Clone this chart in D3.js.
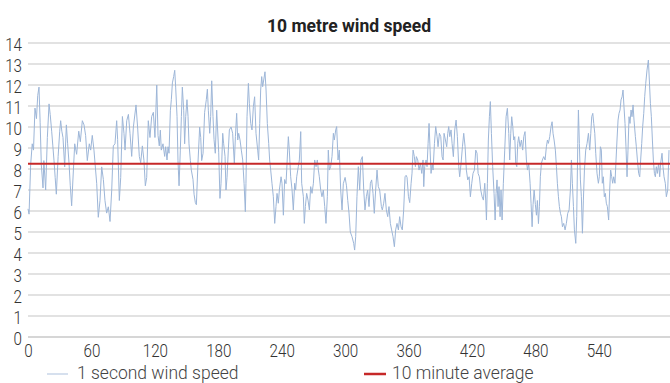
<!DOCTYPE html>
<html><head><meta charset="utf-8">
<script src="https://cdn.jsdelivr.net/npm/d3@7"></script>
<style>body{margin:0;background:#fff}svg{display:block}</style>
</head><body>
<svg id="chart" width="670" height="383"></svg>
<script>
const title = "10 metre wind speed";
const seriesNames = ["1 second wind speed", "10 minute average"];
const xTickValues = [0, 60, 120, 180, 240, 300, 360, 420, 480, 540];
const yTickValues = [0,1,2,3,4,5,6,7,8,9,10,11,12,13,14];
const averageSpeed = 8.25;
const seconds = [
0,1,2.5,4,5.2,6.6,8,9.2,10.4,11.5,12.6,14.2,15,16.7,18.3,19.9,21,22.4,23.5,24.6,25.7,26.8,28.5,30,30.9,32,33.1,34.7,36.3,37.5,38.8,40,41.3,43,44.2,46,48,49.5,51.4,53,54.5,56.1,58,59.3,60.8,62.4,
65,66.5,68.1,69.7,71.3,72.8,74.4,76,77.6,79.2,80.7,82.3,83.9,84.8,86.4,87.7,89.3,90.8,91.8,93.4,95,96.5,98.1,99.7,102.2,103.8,105.3,106.6,108.2,109.7,111,112.3,113.8,115.4,117,118.6,120.1,121.8,123,124.2,
125.2,126.1,127.7,129.3,130.2,131.5,132.5,133.4,134.7,135.6,136.6,137.8,138.8,139.7,141,141.9,142.9,144.1,145.1,146,147.3,148.2,149.2,150.4,151.4,152.3,153.6,154.5,156.1,157.1,158.3,159.3,160.8,162.4,163.4,164.3,165.6,167.1,168.7,169.7,170.6,171.9,172.8,173.8,175,176,177.2,178.5,180.4,181.6,182.6,184.2,
185.1,186.4,187.3,188.3,189.5,190.5,192.1,193.6,195.2,196.2,197.4,198.4,199.3,200.6,201.8,203.1,204.4,205.6,206.2,207.2,208.5,209.4,210.7,211.9,213.2,214.4,215.7,217.3,218.2,219.2,220.1,221.1,222,223,224.2,225.2,226.4,227.7,228.6,229.6,230.8,232.1,233.4,234.6,235.6,236.8,237.8,239.4,240.3,241.6,242.8,244.1,
246.3,247.2,248.5,249.8,251,252.3,253.2,254.2,255.7,256.7,258,258.9,260.5,261.4,262.4,263.6,264.9,266.2,267.4,268.7,270,271.2,272.5,273.7,274.7,275.6,276.9,278.1,279.4,280.7,281.9,283.2,284.1,285.1,286.3,287.6,288.9,289.8,291.1,292,293.3,294.5,295.8,297.1,298.3,300,301.3,302.5,303.7,304.9,
306.5,308.1,309,310,311.2,312.5,313.8,315,316.3,317.6,318.8,320.1,321.3,322.6,323.9,325.1,326.4,327.6,328.9,330.2,331.4,332.7,334.3,335.2,336.5,337.7,339,340.3,341.5,342.8,344,345.3,346.6,347.8,349.1,350.4,351.6,352.9,354.1,355.4,356.7,357.7,358.6,359.9,361.1,362.4,363.3,364.3,
365.5,366.5,367.4,368.7,369.9,371.2,372.5,373.7,374.4,375.3,376.6,377.5,378.5,379.4,380.4,381.3,382.3,383.2,384.5,385.7,387,387.9,389.2,390.5,391.7,392.7,393.6,394.9,396.1,397.1,398,399,400.2,401.2,402.4,403.7,405,406.2,407.5,408.4,409.7,411,412.2,413.5,414.7,416,417.3,418.5,419.8,421,422.3,423.6,424.8,
425.8,427,428.3,429.6,430.8,432.1,433,433.7,434.6,435.5,436.5,437.4,438.4,439.6,440.9,441.9,442.8,443.7,444.7,445.6,446.6,447.5,448.5,449.7,451,452.3,453.5,454.8,455.7,456.7,457.6,458.6,459.5,460.5,461.4,462.4,463.3,464.2,465.5,466.8,468,469,470.2,471.5,472.5,473.7,475,475.9,476.9,477.8,478.8,480,481,481.9,482.9,483.8,484.7,
485.7,486.6,487.9,489.2,490.4,491.4,492.3,493.6,494.8,495.8,496.7,497.7,498.9,499.9,500.8,501.8,502.7,503.7,504.6,505.6,506.8,508.1,509.3,510.6,511.9,513.1,514.1,515,516,516.9,518.2,519.1,520.1,520.7,521.6,522.6,523.5,524.5,525.4,526.4,527.6,528.9,530.2,531.4,532.4,533.3,534.3,535.2,536.2,537.1,
538.3,539.6,540.5,541.5,542.4,543.3,544.3,545.2,546.2,547.1,548.1,549.3,550.3,551.2,552.2,553.1,554.1,555.3,556.3,557.2,558.2,559.1,560.1,561,562,562.9,563.8,564.8,565.7,566.7,567.6,568.6,569.5,570.5,571.4,572.4,573.3,574.6,575.5,576.5,577.7,578.7,579.6,580.6,581.5,582.5,583.4,584.4,585.6,586.9,587.8,588.8,589.7,590.7,591.6,592.6,593.5,594.4,595.4,596.6,597.6,598.5,599.8,600.7,601.7,602.9,603.9,605.2,606.4
];
const speed = [
6.1,5.85,8.2,9.2,8.9,10.9,10.4,11.5,11.9,10.2,8.2,7.1,8.4,7.0,9.5,11.1,10.6,9.8,9.1,8.4,7.6,6.8,8.6,9.8,10.3,9.8,9.5,8.1,10.1,9.2,8.3,7.2,6.25,8.0,9.2,8.7,9.8,9.3,10.3,10.1,9.6,8.4,9.2,8.9,9.6,8.9,
7.3,5.7,6.5,8.1,7.5,6.5,5.9,6.2,5.5,7.0,9.1,9.2,10.3,9.4,6.5,7.6,10.5,9.7,8.9,10.3,10.6,9.7,8.6,10.0,11.05,9.9,8.6,8.3,9.1,8.4,7.2,7.6,10.3,9.5,10.5,10.7,9.5,12.0,9.6,9.1,
9.85,8.9,9.2,8.6,9.06,8.43,9.06,8.75,10.8,11.3,12.1,12.4,12.7,11.9,10.5,8.4,7.2,8.9,10.5,11.9,10.8,9.2,10.5,11.3,10.5,9.2,8.4,7.95,7.5,6.8,6.4,6.3,8.3,10.0,9.5,8.4,8.75,10.7,11.3,11.8,10.8,9.7,10.5,12.2,10.5,9.4,8.75,10.8,8.8,6.6,7.3,9.7,
9.2,8.6,7.0,7.6,8.9,9.86,10.0,9.7,8.27,9.54,10.65,9.38,9.7,9.38,8.9,8.43,7.32,5.97,7.32,10.49,12.08,11.13,10.17,9.86,10.97,11.44,9.7,8.9,8.43,10.17,11.76,12.4,11.92,12.24,12.63,11.76,10.17,9.22,8.43,7.95,7.32,6.68,5.41,6.21,6.84,6.37,7.0,7.63,7.32,5.8,7.5,7.3,
9.54,8.9,7.63,7.0,6.05,7.32,7.0,7.63,8.11,8.43,9.78,7.32,6.68,5.41,6.21,6.84,6.52,6.05,7.16,6.84,7.32,8.43,8.11,8.43,7.95,7.63,7.0,6.68,7.0,6.21,5.41,6.68,8.9,7.95,8.11,8.59,9.7,9.38,9.86,10.02,8.43,8.9,7.0,6.05,7.3,7.6,7.2,6.5,5.9,5.0,
4.78,4.46,4.14,4.78,6.68,8.11,7.0,8.43,8.59,7.0,6.05,6.68,7.0,6.21,7.32,7.48,6.84,5.89,7.0,7.95,7.16,7.0,6.21,6.05,6.37,6.84,6.05,5.73,6.21,5.41,5.1,4.78,4.3,5.1,5.41,5.1,5.73,5.25,5.1,6.05,7.63,7.7,7.6,6.7,6.4,7.3,7.8,8.9,
8.59,8.11,8.59,8.43,7.95,8.27,7.79,8.43,7.16,8.11,8.43,8.11,9.22,10.17,8.9,7.79,8.27,7.95,9.22,10.02,9.54,9.06,9.7,9.54,8.59,8.43,9.7,9.38,9.06,9.7,10.02,9.54,9.86,9.22,8.59,9.86,10.33,9.54,8.11,7.63,8.27,9.06,9.7,9.06,7.95,7.48,7.63,6.68,7.32,7.79,7.95,8.9,8.75,
7.79,7.63,7.0,6.68,6.52,7.32,6.52,5.57,7.32,9.38,10.49,11.21,9.7,8.11,6.84,5.57,6.84,7.48,6.21,7.16,5.73,7.0,5.57,7.32,8.9,10.49,10.89,9.7,8.43,9.7,10.49,10.02,9.38,9.54,8.27,8.11,9.22,9.54,9.06,9.38,8.9,9.54,9.78,8.43,7.95,8.27,7.32,6.37,5.25,6.3,7.0,6.3,5.8,6.5,5.4,6.2,7.63,
8.27,8.43,8.59,8.43,9.06,9.38,9.22,9.54,10.02,10.25,9.7,9.38,8.9,8.11,7.32,6.68,6.21,5.89,5.73,5.25,5.41,5.1,5.41,5.89,6.05,7.0,8.43,7.32,6.21,5.1,4.46,5.73,9.22,10.81,9.22,7.48,6.68,4.94,6.52,7.95,8.9,9.22,9.7,8.9,9.7,10.49,10.65,10.17,9.7,8.75,
7.8,7.32,7.63,9.06,8.9,7.32,7.63,6.68,6.84,6.37,6.21,5.57,7.0,7.95,7.63,7.32,7.63,7.32,8.43,9.38,10.33,10.65,10.81,11.29,11.44,11.76,10.97,10.17,9.06,7.63,8.9,10.49,10.17,10.81,10.49,11.05,10.33,9.54,9.06,8.43,7.79,7.63,8.43,9.22,10.02,10.65,11.44,12.08,12.71,13.19,12.24,11.13,10.49,9.38,8.43,7.79,7.63,8.11,7.79,8.27,7.63,8.27,8.75,8.11,7.63,7.32,6.68,7.0,8.9
];

const svg = d3.select("#chart");
const x = d3.scaleLinear().domain([0, 606.4]).range([28, 669]);
const y = d3.scaleLinear().domain([0, 14]).range([337, 43]);
const font = "Roboto, 'Noto Sans', sans-serif";

// gridlines
svg.append("g").selectAll("line").data(yTickValues).join("line")
  .attr("x1", 28).attr("x2", 670)
  .attr("y1", d => y(d)).attr("y2", d => y(d))
  .attr("stroke", d => d === 0 ? "#c8c8c8" : "#d9d9d9")
  .attr("stroke-width", 1.4);

// y axis labels
const yAxis = svg.append("g").attr("transform", "translate(22,0)")
  .call(d3.axisLeft(y).tickValues(yTickValues).tickSize(0).tickPadding(0).tickFormat(d3.format("d")));
yAxis.select(".domain").remove();
yAxis.selectAll("text").attr("font-family", font).attr("font-weight", 300).attr("font-size", 19)
  .attr("fill", "#333").attr("dy", "0.42em").attr("transform", "scale(0.8,1)");

// x axis labels
const xAxis = svg.append("g").attr("transform", "translate(0,344)")
  .call(d3.axisBottom(x).tickValues(xTickValues).tickSize(0).tickPadding(0).tickFormat(d3.format("d")));
xAxis.select(".domain").remove();
xAxis.selectAll("text").attr("font-family", font).attr("font-weight", 300).attr("font-size", 19)
  .attr("fill", "#333").attr("transform", "scale(0.8,1)");

// series
const pts = seconds.map((s, i) => [s, speed[i]]);
svg.append("path").datum(pts)
  .attr("fill", "none").attr("stroke", "#9db6d8").attr("stroke-width", 1)
  .attr("stroke-linejoin", "round")
  .attr("d", d3.line().x(d => x(d[0])).y(d => y(d[1])));

// average
svg.append("line")
  .attr("x1", 28).attr("x2", 670)
  .attr("y1", y(averageSpeed)).attr("y2", y(averageSpeed))
  .attr("stroke", "#c62828").attr("stroke-width", 2.2);

// title
svg.append("text").attr("x", 349).attr("y", 32).attr("text-anchor", "middle")
  .attr("font-family", font).attr("font-weight", "bold").attr("font-size", 17.5)
  .attr("fill", "#222").text(title);

// legend
const legend = [
  {x1: 47, x2: 68, tx: 77, color: "#c9d6e8", w: 1.5, name: seriesNames[0]},
  {x1: 364, x2: 386, tx: 392, color: "#c62828", w: 2.5, name: seriesNames[1]}
];
const lg = svg.append("g").selectAll("g").data(legend).join("g");
lg.append("line").attr("x1", d => d.x1).attr("x2", d => d.x2).attr("y1", 374).attr("y2", 374)
  .attr("stroke", d => d.color).attr("stroke-width", d => d.w);
lg.append("text").attr("x", d => d.tx).attr("y", 379)
  .attr("font-family", font).attr("font-weight", 300).attr("font-size", 17.5).attr("fill", "#444").text(d => d.name);
</script>
</body></html>
